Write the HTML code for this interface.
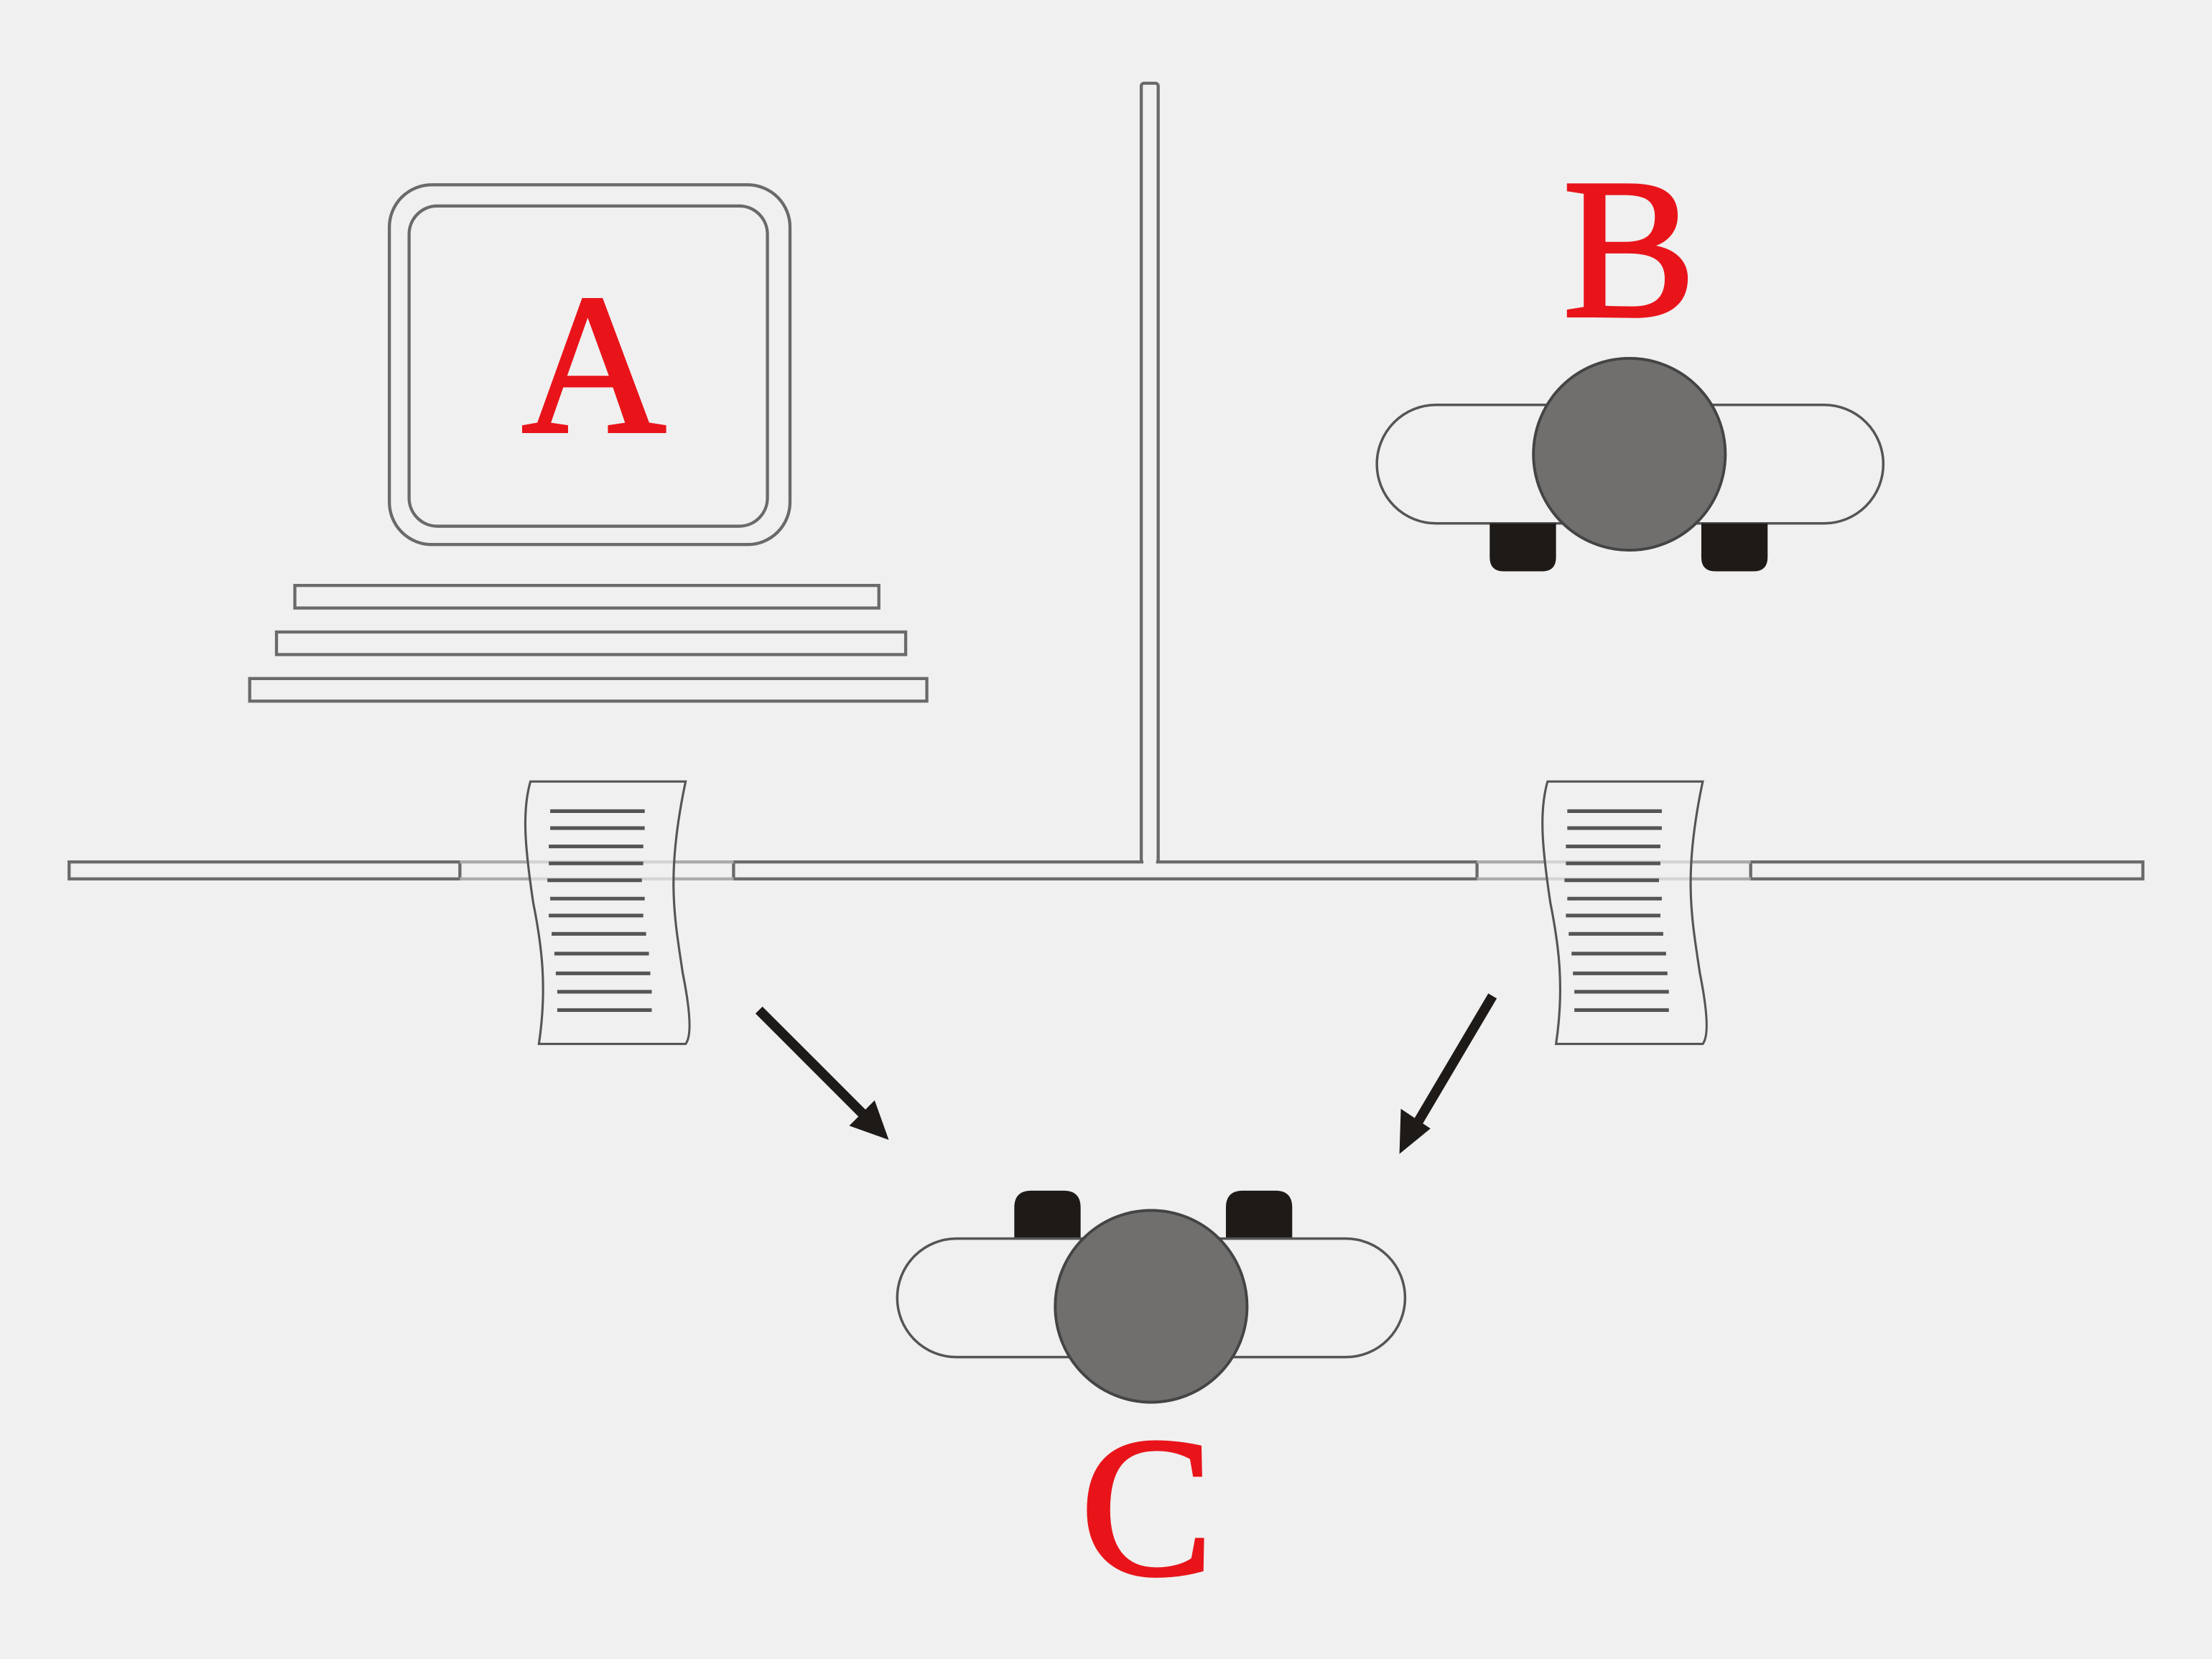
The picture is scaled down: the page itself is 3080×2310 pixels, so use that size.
<!DOCTYPE html>
<html><head><style>html,body{margin:0;padding:0;background:#f0f0f0}svg{display:block}</style></head>
<body>
<svg width="3080" height="2310" viewBox="0 0 1568 1176" xmlns="http://www.w3.org/2000/svg">
<rect width="1568" height="1176" fill="#f0f0f0"/>
<g fill="#f0f0f0" stroke="#6a6a6a" stroke-width="2.2">
<rect x="809" y="59" width="12" height="558" rx="2"/>
<rect x="49" y="611" width="277" height="12"/>
<rect x="520" y="611" width="527" height="12"/>
<rect x="1241" y="611" width="278" height="12"/>
<line x1="326" y1="611" x2="520" y2="611" stroke="#aaa"/>
<line x1="326" y1="623" x2="520" y2="623" stroke="#aaa"/>
<line x1="1047" y1="611" x2="1241" y2="611" stroke="#aaa"/>
<line x1="1047" y1="623" x2="1241" y2="623" stroke="#aaa"/>
<rect x="810.5" y="605" width="9" height="10" stroke="none"/>
<rect x="276" y="131" width="284" height="255" rx="30"/>
<rect x="290" y="146" width="254" height="227" rx="20"/>
<rect x="209" y="415" width="414" height="16"/>
<rect x="196" y="448" width="446" height="16"/>
<rect x="177" y="481" width="480" height="16"/>
</g>
<g stroke="#555" stroke-width="1.6" fill="#f0f0f0">
<path d="M376 554 L486 554 C472 620 478 650 484 690 C490 720 490 735 486 740 L382 740 C388 700 384 670 378 640 C372 600 370 575 376 554 Z" fill-opacity="0.6"/>
<path d="M1097 554 L1207 554 C1193 620 1199 650 1205 690 C1211 720 1211 735 1207 740 L1103 740 C1109 700 1105 670 1099 640 C1093 600 1091 575 1097 554 Z" fill-opacity="0.6"/>
</g>
<g stroke="#555" stroke-width="2.6">
<path d="M390 575h67M389 600h67M388 624h67M389 649h67M391 662h67M393 676h67M394 690h67M395 703h67M395 716h67M390 587h67M389 612h67M390 637h67"/>
<path d="M1111 575h67M1110 600h67M1109 624h67M1110 649h67M1112 662h67M1114 676h67M1115 690h67M1116 703h67M1116 716h67M1111 587h67M1110 612h67M1111 637h67"/>
</g>
<rect x="976" y="287" width="359" height="84" rx="42" fill="#f0f0f0" stroke="#555" stroke-width="1.8"/>
<path d="M1056 371h47v24q0 10-10 10h-27q-10 0-10-10z" fill="#1e1a18"/>
<path d="M1206 371h47v24q0 10-10 10h-27q-10 0-10-10z" fill="#1e1a18"/>
<circle cx="1155" cy="322" r="68" fill="#706f6d" stroke="#444" stroke-width="2"/>
<path d="M719 878h47v-22q0-12-12-12h-23q-12 0-12 12z" fill="#1e1a18"/>
<path d="M869 878h47v-22q0-12-12-12h-23q-12 0-12 12z" fill="#1e1a18"/>
<rect x="636" y="878" width="360" height="84" rx="42" fill="#f0f0f0" stroke="#555" stroke-width="1.8"/>
<circle cx="816" cy="926" r="68" fill="#706f6d" stroke="#444" stroke-width="2"/>
<g stroke="#1e1a18" stroke-width="7">
<line x1="538" y1="716" x2="614" y2="792"/>
<line x1="1058" y1="706" x2="1003" y2="799"/>
</g>
<polygon points="630,808 602,798 620,780" fill="#1e1a18"/>
<polygon points="992,818 993,786 1014,800" fill="#1e1a18"/>
<g font-family="'Liberation Serif',serif" fill="#e8141a" font-size="142" text-anchor="middle" stroke="#e8141a" stroke-width="2">
<text x="421" y="306">A</text>
<text x="1155" y="224">B</text>
<text x="813" y="1116">C</text>
</g>
</svg>
</body></html>
